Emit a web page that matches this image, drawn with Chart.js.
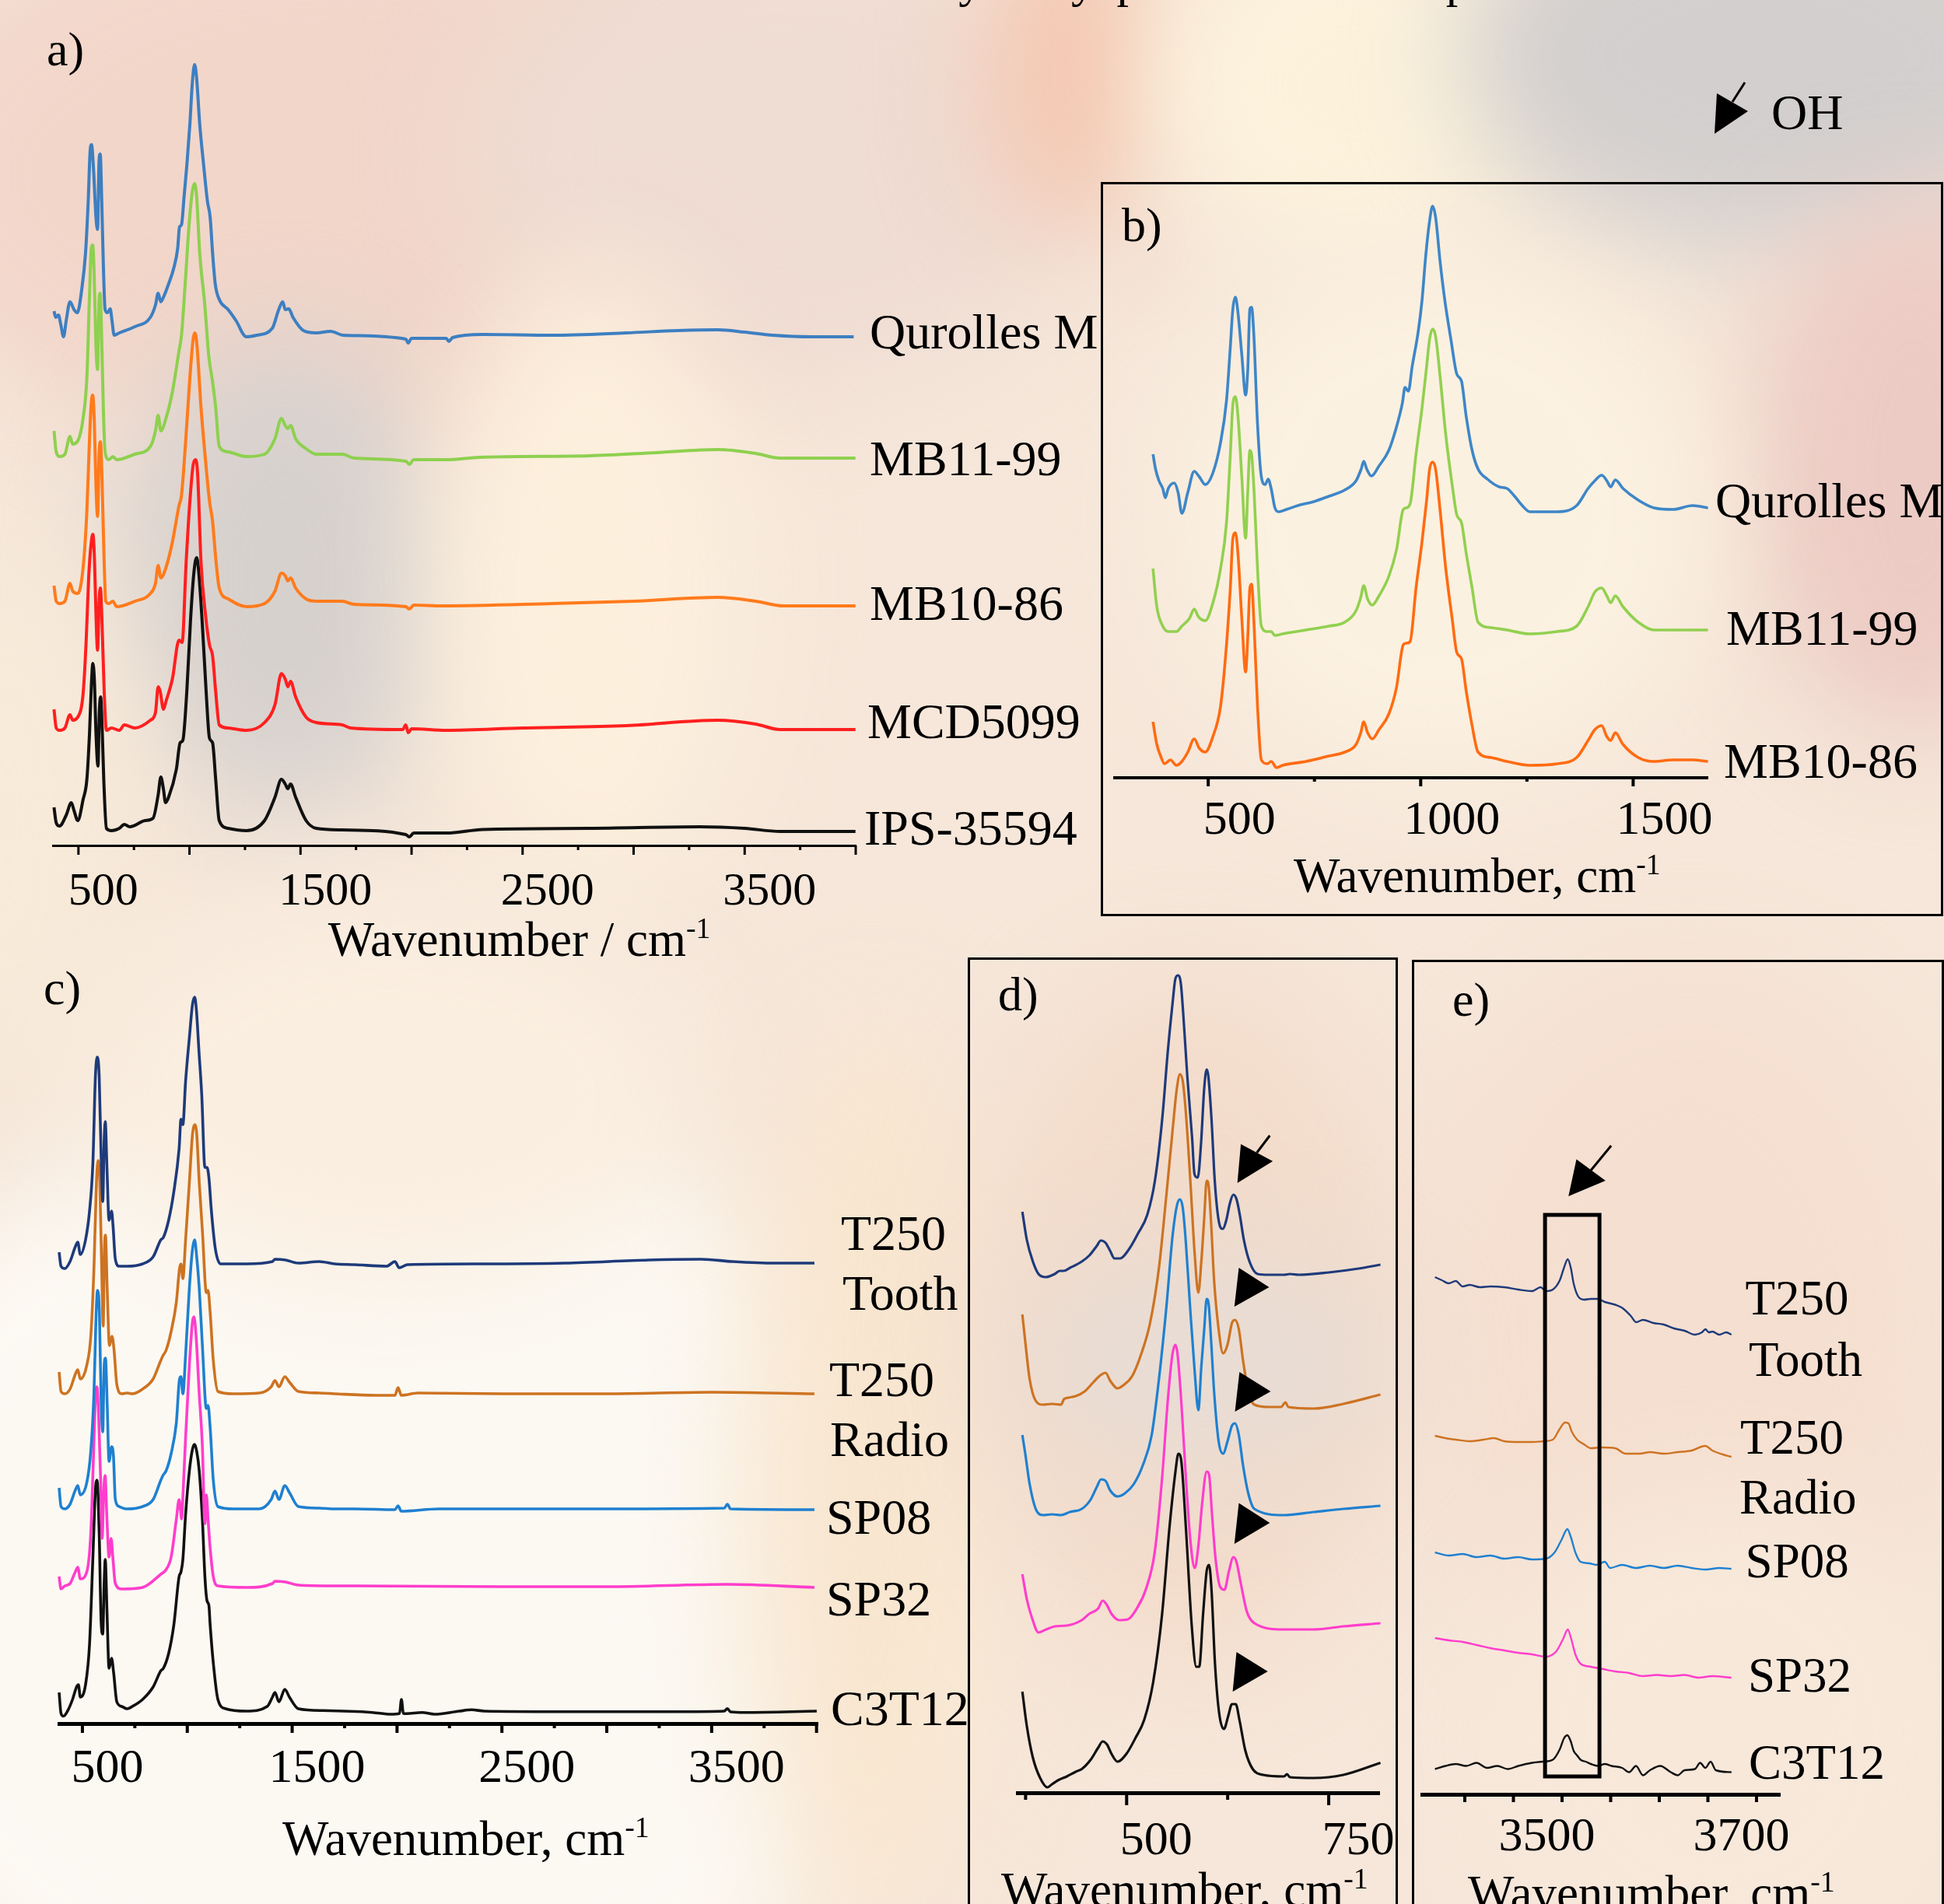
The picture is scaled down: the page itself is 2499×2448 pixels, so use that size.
<!DOCTYPE html>
<html><head><meta charset="utf-8">
<script src="https://cdn.jsdelivr.net/npm/chart.js@4/dist/chart.umd.min.js"></script>
<style>
html,body{margin:0;padding:0;width:2499px;height:2448px;overflow:hidden;}
body{position:relative;background:#f6e7da;font-family:'Liberation Serif','Times New Roman',serif;color:#000;}
.blob{position:absolute;border-radius:50%;filter:blur(70px);}
canvas{position:absolute;}
.t{position:absolute;white-space:nowrap;line-height:1;}
.t sup{font-size:0.6em;vertical-align:0.62em;line-height:0;}
.box{position:absolute;border:3px solid #000;box-sizing:border-box;}
svg{position:absolute;left:0;top:0;}
</style></head>
<body>
<div id="bg"></div>
<script>
// ---------------- DATA ----------------
// Panel a (full range, offset spectra)
const aTicks = [500,750,1000,1250,1500,1750,2000,2250,2500,2750,3000,3250,3500,3750,4000];
const aTickLabels = [500,1500,2500,3500];
const aNames = ['Qurolles M','MB11-99','MB10-86','MCD5099','IPS-35594'];
const aQurolles = [[390,68.7],[398,67.9],[410,68.2],[421,66.9],[433,65.4],[445,67.5],[462,69.9],[480,68.9],[495,68.5],[515,71.5],[532,76.2],[544,82.8],[553,89.4],[559,90.1],[567,87.4],[579,80.8],[586,79.2],[593,88.1],[598,88.9],[605,82.8],[612,74.8],[620,68.9],[631,68.5],[643,69.0],[651,67.5],[661,65.6],[684,65.9],[754,66.7],[824,67.9],[847,69.5],[859,71.0],[871,69.9],[883,70.5],[906,72.2],[929,74.2],[947,76.8],[955,79.5],[964,79.8],[976,83.5],[988,87.4],[1002,92.8],[1013,98.1],[1023,100.4],[1032,98.7],[1046,92.8],[1064,87.4],[1081,82.8],[1093,80.8],[1104,76.2],[1116,72.2],[1134,70.2],[1174,68.9],[1209,67.5],[1256,65.4],[1303,65.6],[1373,66.5],[1402,68.9],[1420,69.9],[1431,68.9],[1447,69.0],[1466,67.9],[1513,66.2],[1571,65.9],[1635,66.1],[1693,65.6],[1974,65.1],[1985,64.6],[2000,65.2],[2156,65.2],[2168,64.8],[2185,65.3],[2321,65.7],[2635,65.6],[2966,65.9],[3200,66.2],[3379,66.3],[3500,66.0],[3627,65.6],[3800,65.4],[3991,65.4]];
const aMB1199 = [[390,53.3],[400,50.6],[415,50.0],[439,50.3],[462,52.6],[474,51.6],[497,52.0],[521,54.9],[538,60.2],[550,70.9],[558,76.8],[564,77.2],[570,74.2],[579,64.2],[586,61.2],[593,70.2],[598,71.0],[602,68.2],[612,56.3],[620,50.6],[637,49.6],[655,50.0],[672,49.6],[754,50.3],[824,51.3],[847,53.3],[859,55.3],[871,53.3],[894,54.9],[923,58.3],[953,63.6],[964,65.6],[982,72.8],[999,80.1],[1013,84.1],[1023,85.1],[1032,83.5],[1046,76.2],[1069,69.5],[1087,62.9],[1104,59.6],[1118,56.3],[1134,51.3],[1174,50.6],[1256,50.0],[1338,50.3],[1385,52.3],[1414,54.9],[1431,54.0],[1443,53.6],[1455,54.0],[1478,52.3],[1525,51.0],[1571,50.3],[1688,50.3],[1742,49.8],[1974,49.4],[1990,49.0],[2010,49.6],[2156,49.6],[2305,49.9],[2800,50.1],[3100,50.5],[3379,50.9],[3550,50.4],[3660,49.8],[3999,49.8]];
const aMB1086 = [[390,33.4],[400,31.4],[415,31.1],[439,31.4],[462,33.7],[474,32.7],[497,32.4],[521,35.7],[538,43.0],[550,52.3],[558,56.9],[564,57.9],[571,54.9],[579,46.3],[586,42.3],[593,50.3],[599,51.9],[605,48.3],[614,38.4],[623,31.4],[637,31.1],[655,31.4],[672,30.7],[754,31.4],[824,32.4],[847,33.7],[859,36.0],[871,34.4],[894,35.7],[923,39.0],[953,43.7],[964,45.0],[982,51.6],[1002,60.2],[1017,65.2],[1025,65.9],[1034,64.2],[1052,56.3],[1072,49.6],[1090,44.3],[1104,41.7],[1118,37.0],[1134,33.1],[1174,31.7],[1256,30.7],[1338,31.1],[1385,32.7],[1414,35.0],[1431,34.7],[1443,34.0],[1455,34.4],[1478,33.1],[1525,31.7],[1571,31.4],[1688,31.4],[1742,31.0],[1974,30.7],[1990,30.4],[2010,30.9],[2139,30.8],[2635,31.1],[3000,31.4],[3379,31.9],[3550,31.4],[3677,30.8],[3999,30.8]];
const aMCD5099 = [[390,17.5],[400,15.1],[415,14.8],[439,15.1],[462,16.8],[474,16.1],[497,16.5],[521,19.5],[535,26.4],[546,34.4],[558,39.0],[565,40.0],[572,37.0],[579,29.7],[586,25.1],[593,31.4],[599,33.1],[605,29.7],[616,19.8],[626,14.8],[649,15.1],[684,14.8],[707,15.5],[754,15.1],[824,16.1],[847,17.1],[859,20.4],[868,19.8],[883,17.5],[894,18.5],[923,21.4],[953,26.4],[967,26.1],[985,36.4],[1002,44.3],[1017,49.0],[1028,49.6],[1037,47.6],[1052,36.4],[1072,29.7],[1090,25.8],[1104,24.4],[1118,19.8],[1134,15.5],[1174,15.1],[1256,14.8],[1338,15.8],[1385,18.1],[1414,22.1],[1431,21.4],[1443,20.4],[1455,21.1],[1478,19.1],[1525,16.5],[1571,15.8],[1688,15.5],[1726,15.1],[1960,14.9],[1974,15.5],[1985,14.5],[2000,15.0],[2156,14.8],[2500,15.1],[2966,15.4],[3379,16.1],[3550,15.6],[3660,14.9],[3999,14.9]];
const aIPS35594 = [[390,4.9],[400,2.9],[415,2.5],[445,3.9],[468,5.5],[480,4.5],[497,3.2],[521,5.9],[538,8.5],[550,14.5],[558,20.4],[565,23.4],[572,21.1],[579,14.5],[588,10.2],[594,17.1],[600,19.1],[606,15.8],[614,8.5],[626,2.2],[649,1.9],[684,2.2],[707,2.7],[731,2.4],[801,3.2],[836,3.5],[859,6.5],[871,8.8],[883,7.2],[892,5.5],[906,6.2],[941,9.8],[958,13.2],[970,13.5],[988,19.8],[1005,29.1],[1020,35.1],[1032,37.0],[1040,35.7],[1058,28.4],[1075,19.8],[1090,13.8],[1104,13.2],[1118,8.5],[1134,3.2],[1174,2.2],[1256,1.9],[1338,3.2],[1385,6.2],[1414,8.5],[1431,7.9],[1443,7.3],[1455,7.9],[1478,6.2],[1525,3.2],[1571,2.2],[1688,2.0],[1974,1.4],[1990,1.1],[2010,1.6],[2156,1.6],[2321,2.06],[2800,2.2],[3296,2.4],[3500,2.2],[3660,1.8],[3999,1.8]];

// Panel b (fingerprint region)
const bTicks = [500,750,1000,1250,1500];
const bTickLabels = [500,1000,1500];
const bNames = ['Qurolles M','MB11-99','MB10-86'];
const bQurolles = [[370,41.6],[376,39.7],[384,38.2],[393,37.2],[399,36.0],[406,37.2],[420,37.9],[429,36.7],[438,34.0],[452,36.7],[467,39.4],[479,38.7],[493,37.7],[511,39.2],[529,43.1],[543,48.5],[552,55.4],[558,60.3],[564,61.8],[570,59.8],[579,54.4],[588,49.2],[593,52.4],[598,60.3],[602,60.5],[607,57.3],[616,45.5],[625,38.7],[634,37.7],[641,38.4],[648,37.2],[657,34.7],[666,34.2],[684,34.5],[711,35.0],[748,35.5],[784,36.2],[821,37.0],[848,38.2],[860,39.7],[866,40.7],[873,39.7],[884,38.8],[902,40.1],[925,42.1],[943,45.1],[957,48.2],[963,50.2],[971,49.7],[980,52.9],[994,57.3],[1003,61.3],[1012,67.2],[1021,71.6],[1028,73.5],[1035,72.1],[1046,66.2],[1057,61.3],[1071,56.4],[1085,51.9],[1096,51.0],[1107,46.5],[1121,42.1],[1135,39.7],[1157,38.4],[1185,37.4],[1203,37.2],[1221,36.2],[1239,35.0],[1257,34.2],[1321,34.2],[1367,35.0],[1394,37.2],[1410,38.2],[1426,38.9],[1438,38.2],[1447,37.4],[1458,38.3],[1476,37.2],[1512,35.7],[1549,34.7],[1594,34.5],[1640,35.0],[1676,34.7]];
const bMB1199 = [[370,26.9],[379,22.0],[393,19.5],[406,18.8],[425,18.8],[438,19.5],[456,20.5],[467,21.7],[477,20.7],[493,20.2],[511,22.5],[529,26.9],[543,32.8],[552,41.6],[558,48.0],[564,49.0],[570,46.5],[579,38.7],[588,30.8],[593,36.7],[598,42.1],[602,41.6],[608,36.7],[616,26.9],[625,19.5],[639,18.8],[648,18.8],[657,18.3],[675,18.5],[730,19.0],[784,19.5],[821,20.0],[848,21.5],[859,23.2],[866,24.7],[875,23.0],[886,22.2],[902,23.4],[925,25.9],[943,29.3],[959,34.5],[966,34.7],[975,35.2],[989,41.6],[1003,47.5],[1014,52.9],[1021,56.4],[1028,57.7],[1035,56.8],[1046,51.4],[1059,44.1],[1074,37.7],[1085,33.8],[1096,32.8],[1107,28.9],[1121,24.4],[1135,20.0],[1166,19.3],[1203,19.0],[1257,18.5],[1321,18.8],[1367,19.5],[1394,22.0],[1410,23.9],[1426,24.4],[1438,23.4],[1447,22.5],[1458,23.4],[1476,22.0],[1512,20.0],[1549,19.0],[1594,19.0],[1640,19.0],[1676,19.0]];
const bMB1086 = [[370,7.2],[379,4.3],[388,2.8],[397,1.8],[411,2.3],[425,1.6],[438,2.1],[452,3.3],[467,5.0],[479,3.8],[493,3.3],[511,5.3],[529,9.2],[543,17.1],[552,24.4],[558,30.8],[564,31.5],[570,28.8],[579,20.5],[588,13.6],[593,18.0],[598,24.4],[602,24.9],[608,19.5],[616,9.2],[625,2.3],[639,1.8],[648,2.1],[661,1.3],[675,1.6],[730,2.1],[784,2.8],[821,3.3],[848,4.3],[859,5.8],[866,7.2],[875,5.8],[886,5.0],[902,6.2],[925,8.2],[943,11.6],[959,17.1],[966,17.3],[975,17.5],[989,24.4],[1003,30.3],[1014,35.7],[1021,39.7],[1028,40.6],[1035,39.7],[1046,34.2],[1059,26.9],[1074,20.5],[1085,16.1],[1096,15.3],[1107,11.2],[1121,6.7],[1135,3.3],[1166,2.6],[1203,2.1],[1257,1.6],[1321,1.8],[1367,2.6],[1394,4.8],[1410,6.2],[1426,6.7],[1438,5.3],[1447,4.8],[1458,5.8],[1476,4.3],[1512,2.6],[1549,2.1],[1594,2.3],[1640,2.3],[1676,2.1]];

// Panel c (full range, second sample set)
const cTicks = [500,750,1000,1250,1500,1750,2000,2250,2500,2750,3000,3250,3500,3750,4000];
const cTickLabels = [500,1500,2500,3500];
const cNames = ['T250 Tooth','T250 Radio','SP08','SP32','C3T12'];
const cT250Tooth = [[389,60.6],[398,58.8],[416,58.5],[441,59.4],[466,61.3],[478,61.9],[490,60.3],[515,62.2],[534,65.9],[550,72.1],[562,83.2],[571,85.7],[580,83.2],[590,72.1],[597,67.1],[604,75.2],[609,77.4],[617,71.5],[627,64.7],[639,65.9],[646,64.0],[657,59.7],[676,58.8],[713,58.8],[787,59.1],[837,60.0],[874,62.2],[886,62.5],[911,64.7],[936,68.4],[961,73.9],[970,77.7],[979,77.0],[992,82.6],[1010,88.2],[1025,92.5],[1035,93.4],[1043,91.9],[1056,86.3],[1069,80.8],[1084,71.5],[1094,71.5],[1103,70.2],[1115,65.9],[1134,61.0],[1159,59.1],[1282,59.1],[1406,59.4],[1418,59.7],[1468,59.6],[1530,59.2],[1629,59.4],[1703,59.1],[1800,59.0],[1950,58.8],[1990,59.4],[2010,58.6],[2050,59.0],[2400,59.1],[2800,59.2],[3200,59.6],[3450,59.7],[3600,59.4],[3800,59.2],[3990,59.2]];
const cT250Radio = [[389,45.2],[398,42.7],[416,42.4],[441,43.0],[466,44.9],[478,45.5],[490,44.3],[521,46.1],[540,49.8],[555,58.5],[567,69.6],[575,72.4],[583,69.6],[593,57.2],[599,51.1],[605,61.0],[610,62.8],[618,56.0],[629,48.6],[641,49.8],[651,48.0],[664,43.6],[688,42.4],[713,42.5],[738,42.4],[787,43.0],[837,44.3],[874,46.7],[884,47.3],[899,48.0],[923,50.4],[948,54.2],[963,58.5],[970,59.1],[979,57.2],[992,62.2],[1010,69.6],[1025,75.8],[1035,77.0],[1045,75.8],[1057,69.6],[1072,63.4],[1091,55.4],[1099,55.7],[1109,52.9],[1124,46.7],[1146,42.7],[1220,42.4],[1344,42.5],[1400,43.3],[1418,44.1],[1437,43.3],[1465,44.6],[1487,43.9],[1530,42.7],[1629,42.5],[1700,42.4],[1900,42.2],[1990,42.2],[2005,43.2],[2020,42.2],[2100,42.5],[2500,42.4],[3000,42.4],[3500,42.6],[3990,42.4]];
const cSP08 = [[389,30.3],[398,27.9],[416,27.6],[441,28.2],[466,30.0],[478,30.6],[490,29.4],[521,31.0],[540,35.0],[555,42.4],[565,52.3],[572,55.7],[581,52.9],[589,41.8],[597,37.5],[604,46.1],[610,47.0],[618,41.2],[627,33.7],[639,35.6],[648,34.4],[657,28.8],[676,27.9],[713,27.6],[787,27.9],[837,28.8],[874,31.3],[884,31.9],[899,32.5],[923,34.7],[948,38.7],[963,44.3],[970,44.6],[979,42.4],[992,47.4],[1010,56.0],[1025,61.0],[1035,62.2],[1045,60.0],[1057,56.0],[1072,48.6],[1091,40.5],[1099,40.9],[1109,38.1],[1124,31.3],[1146,27.9],[1220,27.6],[1344,27.6],[1400,28.8],[1418,29.9],[1437,28.8],[1465,30.6],[1487,29.7],[1530,27.9],[1629,27.7],[1703,27.6],[1800,27.6],[1990,27.5],[2005,28.0],[2020,27.3],[2200,27.6],[3000,27.6],[3560,27.7],[3575,28.2],[3590,27.6],[3990,27.5]];
const cSP32 = [[389,18.9],[398,17.3],[416,17.7],[441,18.0],[466,19.5],[478,20.1],[490,18.6],[521,19.5],[540,24.5],[552,33.7],[562,41.8],[569,43.3],[577,39.9],[587,31.3],[594,23.8],[602,30.0],[608,31.9],[617,26.3],[627,21.4],[637,23.8],[645,21.4],[657,18.0],[688,17.3],[787,17.5],[874,19.2],[899,19.8],[923,21.4],[948,26.3],[961,28.8],[967,27.6],[973,26.3],[979,29.1],[992,36.8],[1010,46.1],[1025,51.7],[1032,52.3],[1042,49.8],[1057,42.4],[1072,35.6],[1084,25.7],[1091,29.4],[1099,26.3],[1109,22.6],[1124,18.9],[1146,17.7],[1282,17.5],[1406,18.0],[1418,18.3],[1468,18.2],[1530,17.8],[1703,17.7],[1800,17.7],[2500,17.6],[3000,17.6],[3575,17.9],[3990,17.5]];
const cC3T12 = [[389,4.0],[398,1.3],[410,0.95],[429,1.6],[453,3.1],[472,4.7],[481,5.0],[490,3.4],[515,5.0],[534,10.2],[550,21.4],[562,30.0],[570,31.3],[580,24.5],[589,13.3],[597,11.5],[604,18.3],[609,21.1],[617,14.6],[627,7.1],[639,8.4],[649,6.5],[664,2.8],[688,2.2],[713,1.9],[738,2.2],[787,3.1],[837,4.7],[874,6.8],[886,7.1],[911,9.0],[936,12.7],[961,18.9],[970,19.5],[979,21.1],[992,26.9],[1010,32.5],[1025,35.3],[1035,35.9],[1045,35.0],[1057,32.5],[1072,26.3],[1084,18.9],[1094,15.8],[1103,15.2],[1109,12.7],[1124,7.8],[1146,3.1],[1183,1.9],[1282,1.6],[1381,2.2],[1406,3.4],[1418,4.0],[1437,2.8],[1465,4.4],[1487,3.4],[1530,1.9],[1646,1.67],[1882,1.43],[1971,1.2],[2012,1.3],[2021,3.1],[2030,1.3],[2045,1.27],[2119,1.43],[2178,1.2],[2297,1.6],[2356,1.77],[2415,1.6],[2770,1.53],[3362,1.53],[3560,1.6],[3575,1.93],[3590,1.5],[3658,1.43],[4001,1.6]];

// Panel d (400-800 cm-1 zoom)
const dTicks = [375,500,625,750];
const dTickLabels = [500,750];
const dT250Tooth = [[371,74.7],[376.5,71.1],[384,68.3],[391,66.7],[400,66.3],[411,66.7],[417,67.1],[422,67.1],[430,67.5],[444.5,68.3],[454,69.1],[463,70.3],[468,71.0],[474,70.7],[479.5,69.7],[485,68.7],[492,68.7],[503,69.9],[514,71.9],[525.5,74.3],[535,78.7],[544,86.6],[551,95.4],[557,101.7],[560,104.5],[563.4,105.1],[567,104.1],[570,100.2],[575,92.2],[581,84.2],[584,79.5],[588,79.1],[592,83.4],[596,90.6],[599,93.0],[601,92.2],[605,86.6],[609,78.7],[614,73.5],[619,72.5],[623,73.5],[628,75.9],[632,76.9],[636,76.3],[640,74.3],[645,71.1],[652,68.3],[662,66.7],[676,66.6],[695,66.6],[702,66.7],[713,66.6],[750,66.9],[787,67.4],[814,67.9]];
const dT250Radio = [[371,61.5],[374.6,58.0],[380,53.2],[387.5,50.4],[396.7,49.9],[407.7,50.0],[418.8,49.9],[422.4,50.6],[428,50.8],[437,51.0],[448,51.6],[459,52.8],[466.6,53.6],[474,54.0],[479.5,53.0],[488.7,52.0],[496,52.4],[507,53.6],[518,56.4],[529,60.4],[540,67.5],[549.4,77.1],[556.7,85.0],[562.2,90.6],[566,92.4],[569.6,91.4],[573.3,87.4],[578.8,78.7],[584.3,69.1],[588.7,64.3],[592.4,68.3],[596,73.9],[599,78.7],[601.6,77.9],[604.6,73.1],[608.2,65.9],[613.8,59.6],[619.3,56.5],[624.8,57.6],[630.3,60.4],[634,60.8],[638.8,59.6],[644,55.6],[650.5,51.6],[658,49.9],[676.3,49.6],[691,49.6],[696.5,50.2],[700,49.6],[731.5,49.4],[768,50.0],[814,51.2]];
const dSP08 = [[371,46.0],[374.6,43.6],[380,39.7],[387.5,36.5],[396.7,35.7],[407.7,35.8],[418.8,35.7],[429.8,36.1],[444.5,36.5],[455.5,37.7],[463,39.3],[468.4,40.3],[474,40.1],[479.5,38.9],[488.7,38.1],[497.9,38.5],[508.9,39.7],[520,42.1],[531,46.0],[540,53.2],[549.4,62.7],[556.7,71.5],[562.2,75.5],[566,76.3],[569.6,75.1],[573.3,70.7],[578.8,62.0],[584.3,54.0],[588.7,49.2],[592.4,54.8],[596,59.6],[599,63.5],[601.6,62.7],[604.6,58.0],[608.2,51.6],[613.8,45.2],[619.3,43.6],[624.8,45.2],[630.3,47.2],[634,47.5],[638.8,46.0],[644,42.1],[650.5,38.5],[658,36.5],[694.7,35.7],[731.5,36.1],[768,36.5],[814,36.9]];
const dSP32 = [[371,28.1],[376.5,24.9],[383.8,22.2],[391,20.6],[400.4,21.0],[411.4,21.4],[426,21.5],[444.5,22.2],[453.7,23.0],[464.8,23.7],[470.3,24.7],[475.8,24.1],[481.3,23.0],[490.5,22.2],[501.5,22.3],[512.6,23.7],[523.6,26.1],[534.7,30.9],[543.9,40.5],[551.2,50.8],[556.7,56.4],[560.4,57.6],[563,56.4],[567.8,50.0],[573.3,40.5],[578.8,32.5],[584.3,28.9],[588.7,31.7],[593.5,37.3],[599,41.3],[602,40.9],[605.7,35.7],[610,30.1],[615.6,26.5],[621,26.1],[626.6,28.5],[632.1,30.3],[635.8,29.7],[641.3,26.9],[648.7,23.3],[658,21.8],[694.7,21.0],[731.5,21.0],[768,21.4],[814,21.8]];
const dC3T12 = [[371,13.0],[376.5,8.6],[383.8,4.6],[393,1.9],[402,0.7],[407.7,1.1],[415,1.6],[426,2.1],[437,2.7],[444.5,3.05],[455.5,4.25],[464.8,5.8],[470.3,6.6],[475.8,6.2],[481.3,5.0],[488.7,4.0],[499.7,5.0],[510.7,7.0],[521.8,9.4],[532.8,14.2],[543.9,23.0],[553,34.1],[560.4,41.3],[564,43.6],[567.8,42.5],[573.3,34.1],[580.6,21.4],[586.2,16.2],[589.8,16.2],[594.6,23.0],[599,28.5],[602,29.3],[605,26.1],[609.3,16.6],[614.5,10.2],[620.4,8.2],[625.5,9.8],[630.3,11.4],[635,11.4],[639.5,9.4],[646.9,5.4],[656,3.05],[669,2.3],[694.7,2.1],[698.4,2.4],[702,2.0],[731.5,1.9],[768,2.3],[814,3.85]];

// Panel e (OH stretch region)
const eTicks = [3450,3500,3550,3600,3650,3700,3750];
const eTickLabels = [3500,3700];
const eNames = ['T250 Tooth','T250 Radio','SP08','SP32','C3T12'];
const eT250Tooth = [[3419.3,66.5],[3426.4,66.1],[3433.5,65.7],[3440.7,66.0],[3447.8,65.3],[3455,65.5],[3465.6,65.2],[3476.3,65.3],[3490.6,65.2],[3504.9,64.9],[3519.1,64.7],[3528,65.2],[3533.4,64.7],[3540.5,64.9],[3547.7,66.1],[3552,67.7],[3555.9,68.8],[3559,67.7],[3561.9,65.7],[3566.2,64.1],[3572.6,63.6],[3579.7,63.7],[3586.9,63.7],[3594,63.3],[3604.7,62.95],[3611.8,62.55],[3620.8,61.5],[3626.1,60.7],[3633.2,61.0],[3644,60.6],[3654.6,60.4],[3665.3,59.9],[3676,59.6],[3686.7,59.1],[3693.9,59.4],[3697.4,59.8],[3701,59.4],[3704.6,59.5],[3711.7,59.1],[3718.8,59.4],[3724.2,59.1]];
const eT250Radio = [[3419.3,46.1],[3430,45.8],[3440.7,45.6],[3455,45.4],[3469.2,45.6],[3479.9,45.8],[3490.6,45.4],[3504.9,45.3],[3519.1,45.3],[3531.6,45.4],[3540.5,45.6],[3547.7,47.0],[3553,47.8],[3556.6,47.7],[3560.1,46.6],[3565.5,45.6],[3572.6,45.0],[3579.7,44.5],[3590.4,44.6],[3604.7,44.5],[3615.4,43.8],[3629.7,43.8],[3640.4,44.0],[3654.6,43.8],[3668.9,44.0],[3683.2,44.2],[3697.4,44.8],[3704.6,44.2],[3715.3,43.7],[3724.2,43.4]];
const eSP08 = [[3419.3,31.1],[3433.5,30.7],[3447.8,30.9],[3462,30.5],[3476.3,30.7],[3490.6,30.3],[3504.9,30.5],[3519.1,30.2],[3533.4,30.3],[3542.3,31.1],[3549.4,32.7],[3555.5,34.1],[3559,33.1],[3563.7,31.1],[3569,29.9],[3578,29.7],[3585,29.5],[3594,29.9],[3599.4,29.1],[3611.8,29.5],[3626.1,29.1],[3640.4,29.4],[3654.6,29.1],[3668.9,29.4],[3683.2,29.1],[3697.4,28.9],[3711.7,29.1],[3724.2,29.0]];
const eSP32 = [[3419.3,20.1],[3433.5,19.8],[3447.8,19.6],[3462,19.2],[3476.3,18.8],[3490.6,18.5],[3504.9,18.2],[3519.1,18.0],[3533.4,17.7],[3544.1,18.4],[3551.2,20.0],[3555.9,21.2],[3559.4,20.0],[3563.7,18.0],[3569,16.8],[3579.7,16.4],[3590.4,16.15],[3604.7,15.8],[3619,15.6],[3633.2,15.2],[3647.5,15.35],[3661.8,15.2],[3676,15.35],[3690.3,15.0],[3704.6,15.2],[3724.2,15.0]];
const eC3T12 = [[3419.3,3.25],[3430,3.65],[3440.7,3.9],[3451.4,3.65],[3462,4.05],[3472.8,3.4],[3483.5,3.65],[3494.2,3.25],[3504.9,3.65],[3519.1,4.05],[3529.8,4.2],[3540.5,4.45],[3547.7,5.8],[3552,7.2],[3555.5,7.6],[3559,6.8],[3561.9,5.6],[3565.5,5.0],[3569,4.45],[3574.4,4.2],[3579.7,3.9],[3586.9,3.65],[3594,3.9],[3601,3.65],[3611.8,3.4],[3619,2.85],[3626.1,3.65],[3633.2,2.45],[3640.4,3.1],[3651,3.65],[3661.8,2.85],[3668.9,2.45],[3676,3.1],[3686.7,3.25],[3692,4.05],[3697.4,3.4],[3702.8,4.2],[3708.1,3.1],[3724.2,2.85]];

// ---------------- STYLE ----------------
const FONT = "'Liberation Serif','Times New Roman',serif";
Chart.defaults.font.family = FONT;
Chart.defaults.color = '#000';

const bgBlobs = [
  [-150,-150,1200,750,'#f2d6ca'],[600,-100,800,600,'#efdcd3'],[150,430,430,620,'#d7d1ce'],
  [560,350,400,800,'#fcefdc'],[1270,-120,220,420,'#f4c6b0'],[1480,-120,520,460,'#fcf2dc'],
  [1880,-180,780,500,'#d2cfce'],[2250,250,420,700,'#eccbc4'],[1500,320,700,680,'#fbf1e0'],
  [-150,700,320,700,'#f7ead8'],[-250,1400,1450,1300,'#fcf9f3'],[100,1150,800,500,'#faeee0'],
  [950,1300,350,1200,'#f8e6d0'],[1250,1250,560,900,'#f3dccb'],[1820,1250,700,900,'#f5dfd0'],
  [1900,1900,620,650,'#f7e8da'],[1300,1600,500,300,'#e8dcd4']
];
const bg = document.getElementById('bg');
bgBlobs.forEach(b => { const d = document.createElement('div'); d.className = 'blob';
  d.style.cssText = `left:${b[0]}px;top:${b[1]}px;width:${b[2]}px;height:${b[3]}px;background:${b[4]}`; bg.appendChild(d); });

const tickPlugin = {
  id: 'axisTicks',
  afterDraw(chart, args, opts) {
    if (!opts || !opts.ticks) return;
    const {ctx, chartArea} = chart; const x = chart.scales.x;
    ctx.save(); ctx.strokeStyle = '#000'; ctx.lineWidth = opts.width; ctx.lineCap = 'butt';
    opts.ticks.forEach(t => { const px = x.getPixelForValue(t.v);
      ctx.beginPath(); ctx.moveTo(px, chartArea.bottom); ctx.lineTo(px, chartArea.bottom + t.len); ctx.stroke(); });
    ctx.restore();
  }
};
const markPlugin = {
  id: 'marks',
  afterDatasetsDraw(chart, args, opts) {
    if (!opts) return;
    const {ctx} = chart; const x = chart.scales.x, y = chart.scales.y;
    const P = p => [x.getPixelForValue(p[0]), y.getPixelForValue(p[1])];
    ctx.save(); ctx.fillStyle = '#000'; ctx.strokeStyle = '#000';
    (opts.tris || []).forEach(tr => { ctx.beginPath(); tr.forEach((p, i) => { const q = P(p); i ? ctx.lineTo(q[0], q[1]) : ctx.moveTo(q[0], q[1]); }); ctx.closePath(); ctx.fill(); });
    (opts.lines || []).forEach(l => { ctx.lineWidth = l[2]; const a = P(l[0]), b = P(l[1]); ctx.beginPath(); ctx.moveTo(a[0], a[1]); ctx.lineTo(b[0], b[1]); ctx.stroke(); });
    (opts.rects || []).forEach(r => { ctx.lineWidth = r[2]; const a = P(r[0]), b = P(r[1]); ctx.strokeRect(a[0], a[1], b[0] - a[0], b[1] - a[1]); });
    ctx.restore();
  }
};

function makePanel(cfg) {
  const padL = 40, padR = 40, padT = 20;
  const W = cfg.area.r - cfg.area.l + padL + padR;
  const H = cfg.area.b - cfg.area.t + padT + cfg.axH;
  const cv = document.createElement('canvas');
  cv.width = W; cv.height = H;
  cv.style.left = (cfg.area.l - padL) + 'px'; cv.style.top = (cfg.area.t - padT) + 'px';
  cv.style.width = W + 'px'; cv.style.height = H + 'px';
  document.body.appendChild(cv);
  new Chart(cv, {
    type: 'line',
    data: { datasets: cfg.series.map(s => ({
      label: s.name, data: s.data.map(p => ({x: p[0], y: p[1]})),
      borderColor: s.color, borderWidth: cfg.lw, pointRadius: 0, fill: false,
      cubicInterpolationMode: 'monotone', clip: false
    })) },
    options: {
      responsive: false, animation: false, devicePixelRatio: 1,
      layout: { padding: { left: padL, right: padR, top: padT, bottom: 0 } },
      plugins: { legend: { display: false }, tooltip: { enabled: false },
        axisTicks: { ticks: cfg.ticks.map(v => ({ v, len: (cfg.longEvery && v % cfg.longEvery === 0) || (cfg.longSet && cfg.longSet.includes(v)) ? cfg.longLen : cfg.shortLen })), width: cfg.tickW },
        marks: cfg.marks || {} },
      scales: {
        x: { type: 'linear', min: cfg.xmin, max: cfg.xmax,
          afterBuildTicks: s => { s.ticks = cfg.ticks.map(v => ({ value: v })); },
          afterFit: s => { s.height = cfg.axH; },
          grid: { display: true, drawOnChartArea: false, drawTicks: false, tickLength: 0 },
          border: { display: true, color: '#000', width: cfg.axW },
          ticks: { autoSkip: false, maxRotation: 0, minRotation: 0, padding: cfg.tickPad, labelOffset: cfg.labelOffset,
            color: '#000', font: { size: cfg.fontSize, family: FONT },
            callback: v => cfg.tickLabels.includes(v) ? String(v) : '' } },
        y: { type: 'linear', display: false, min: 0, max: cfg.ymax }
      }
    },
    plugins: [tickPlugin, markPlugin]
  });
}

const C = { blue:'#3d7fc1', green:'#8ed04f', orange:'#ff7b1c', red:'#ff1f1f', black:'#111111',
  navy:'#1e3a7a', brown:'#cd7322', sky:'#1f80d0', magenta:'#ff3dcc', bOrange:'#ff6b12', bBlue:'#3e86c8', bGreen:'#92d050' };

makePanel({ area:{l:68,t:60,r:1100,b:1087}, xmin:385, xmax:4000, ymax:102.7, axH:140, lw:4,
  ticks:aTicks, tickLabels:aTickLabels, longEvery:500, longLen:12, shortLen:6, tickW:3, axW:3,
  tickPad:24, labelOffset:32, fontSize:60,
  series:[{name:aNames[0],data:aQurolles,color:C.blue},{name:aNames[1],data:aMB1199,color:C.green},
    {name:aNames[2],data:aMB1086,color:C.orange},{name:aNames[3],data:aMCD5099,color:C.red},{name:aNames[4],data:aIPS35594,color:C.black}] });

makePanel({ area:{l:1433,t:240,r:2195,b:1000}, xmin:280, xmax:1675, ymax:76, axH:120, lw:3.6,
  ticks:bTicks, tickLabels:bTickLabels, longEvery:500, longLen:11, shortLen:5, tickW:4, axW:4,
  tickPad:19, labelOffset:40, fontSize:62,
  series:[{name:bNames[0],data:bQurolles,color:C.bBlue},{name:bNames[1],data:bMB1199,color:C.bGreen},{name:bNames[2],data:bMB1086,color:C.bOrange}] });

makePanel({ area:{l:76,t:1260,r:1051,b:2216}, xmin:389, xmax:4005, ymax:95.6, axH:130, lw:3.6,
  ticks:cTicks, tickLabels:cTickLabels, longEvery:500, longLen:12, shortLen:6, tickW:4, axW:5,
  tickPad:22, labelOffset:32, fontSize:62,
  series:[{name:cNames[0],data:cT250Tooth,color:C.navy},{name:cNames[1],data:cT250Radio,color:C.brown},
    {name:cNames[2],data:cSP08,color:C.sky},{name:cNames[3],data:cSP32,color:C.magenta},{name:cNames[4],data:cC3T12,color:C.black}] });

makePanel({ area:{l:1308,t:1233,r:1773,b:2305}, xmin:365, xmax:812.5, ymax:107.2, axH:130, lw:3.2,
  ticks:dTicks, tickLabels:dTickLabels, longSet:[500,750], longLen:16, shortLen:9, tickW:4, axW:5,
  tickPad:26, labelOffset:38, fontSize:62,
  series:[{name:cNames[0],data:dT250Tooth,color:C.navy},{name:cNames[1],data:dT250Radio,color:C.brown},
    {name:cNames[2],data:dSP08,color:C.sky},{name:cNames[3],data:dSP32,color:C.magenta},{name:cNames[4],data:dC3T12,color:C.black}],
  marks:{ tris:[
      [[637.0,78.4],[641.3,83.4],[680.8,81.2]],
      [[638.8,67.5],[676.3,65.0],[633.3,62.5]],
      [[639.6,54.1],[678.2,51.6],[634.0,49.0]],
      [[638.8,37.25],[677.1,34.7],[633.3,32.0]],
      [[635.9,18.1],[674.6,15.6],[631.2,13.0]] ],
    lines:[[[661.1,82.3],[677.1,84.5],3]] } });

makePanel({ area:{l:1828,t:1236,r:2288,b:2307}, xmin:3406, xmax:3774, ymax:107.1, axH:130, lw:2.4,
  ticks:eTicks, tickLabels:eTickLabels, longEvery:0, longLen:10, shortLen:10, tickW:4, axW:5,
  tickPad:19, labelOffset:43, fontSize:62,
  series:[{name:eNames[0],data:eT250Tooth,color:C.navy},{name:eNames[1],data:eT250Radio,color:C.brown},
    {name:eNames[2],data:eSP08,color:C.sky},{name:eNames[3],data:eSP32,color:C.magenta},{name:eNames[4],data:eC3T12,color:C.black}],
  marks:{ rects:[[[3532.5,74.5],[3588.5,2.3],5]],
    tris:[[[3556.6,76.9],[3564.8,81.65],[3594.7,78.9]]],
    lines:[[[3579.8,80.25],[3600.5,83.4],3]] } });

// ---------------- TEXT, FRAMES ----------------
const boxes = [[1415,234,1083,944],[1244,1231,553,1300],[1815,1234,684,1300]];
boxes.forEach(b => { const d = document.createElement('div'); d.className = 'box';
  d.style.cssText = `left:${b[0]}px;top:${b[1]}px;width:${b[2]}px;height:${b[3]}px`; document.body.appendChild(d); });

const WN = 'Wavenumber, cm<sup>-1</sup>';
const texts = [
  ['a)',60,31.6,62],['b)',1442,258,62],['c)',56,1239,62],['d)',1283,1247,62],['e)',1867,1254,62],
  [aNames[0],1118,394.9,64],[aNames[1],1118,557.6,64],[aNames[2],1118,744.1,64],[aNames[3],1115,895.6,64],[aNames[4],1111,1032.6,64],
  [bNames[0],2205,611.6,64],[bNames[1],2219,775.6,64],[bNames[2],2216,946.6,64],
  ['T250',1081,1554,64],['Tooth',1083,1630.6,64],['T250',1066,1742.2,64],['Radio',1067,1818.6,64],['SP08',1062,1919.1,64],['SP32',1062,2024.4,64],['C3T12',1068,2164.6,64],
  ['T250',2243.6,1637.7,63],['Tooth',2248,1717.1,63],['T250',2237,1816.8,63],['Radio',2236,1894.1,63],['SP08',2243.6,1976.1,63],['SP32',2247,2123.1,63],['C3T12',2248,2234.6,63],
  ['Wavenumber / cm<sup>-1</sup>',421.7,1177,63],[WN,1663,1095,63],[WN,363,2333,63],[WN,1287,2399,63],[WN,1887,2403,63],
  ['OH',2277,113.4,64]
];
texts.forEach(t => { const d = document.createElement('div'); d.className = 't';
  d.innerHTML = t[0]; d.style.left = t[1] + 'px'; d.style.top = t[2] + 'px'; d.style.fontSize = t[3] + 'px'; document.body.appendChild(d); });
const ttl = document.createElement('div'); ttl.className = 't';
ttl.textContent = 'bones C and hydroxyapatite reference spectrum';
ttl.style.cssText = 'right:437px;top:-56px;font-size:62px;';
document.body.appendChild(ttl);

const NS = 'http://www.w3.org/2000/svg';
const svg = document.createElementNS(NS, 'svg');
svg.setAttribute('width', '2499'); svg.setAttribute('height', '2448');
svg.innerHTML = '<polygon points="2204,172 2207,120 2247,143" fill="#000"/><line x1="2227" y1="131" x2="2243" y2="106" stroke="#000" stroke-width="3"/>';
document.body.appendChild(svg);
</script>
</body></html>
